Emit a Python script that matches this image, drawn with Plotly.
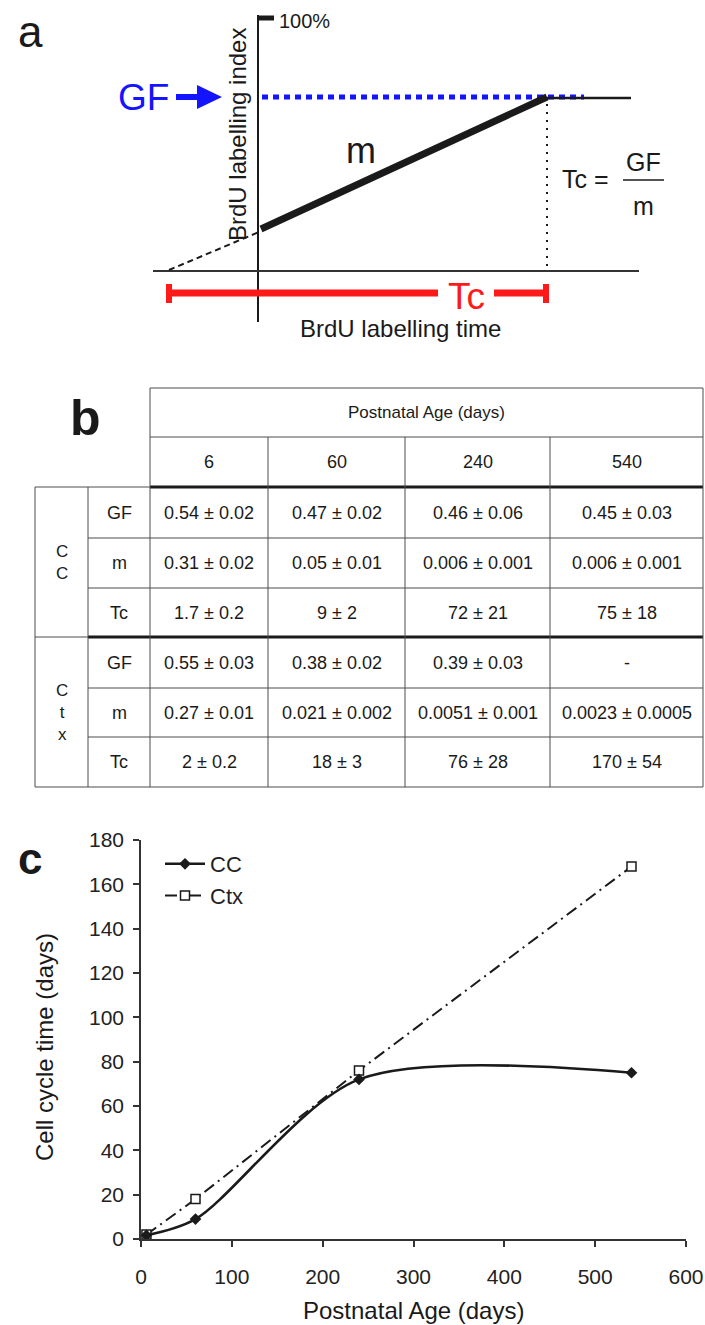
import plotly.graph_objects as go

FONT = "Liberation Sans, Arial, sans-serif"
INK = "#1a1a1a"
BLUE = "#1414ff"
RED = "#ff1a1a"
W, H = 705, 1325

# ---------------- panel c data ----------------
postnatal_age = [6, 60, 240, 540]
cc_cycle_time = [1.7, 9, 72, 75]
ctx_cycle_time = [2, 18, 76, 168]
x_tick_vals = [0, 100, 200, 300, 400, 500, 600]
y_tick_vals = [0, 20, 40, 60, 80, 100, 120, 140, 160, 180]

# ---------------- panel b data ----------------
age_headers = ["6", "60", "240", "540"]
param_names = ["GF", "m", "Tc"]
group_names = ["C<br>C", "C<br>t<br>x"]
cc_gf = ["0.54 ± 0.02", "0.47 ± 0.02", "0.46 ± 0.06", "0.45 ± 0.03"]
cc_m = ["0.31 ± 0.02", "0.05 ± 0.01", "0.006 ± 0.001", "0.006 ± 0.001"]
cc_tc = ["1.7 ± 0.2", "9 ± 2", "72 ± 21", "75 ± 18"]
ctx_gf = ["0.55 ± 0.03", "0.38 ± 0.02", "0.39 ± 0.03", "-"]
ctx_m = ["0.27 ± 0.01", "0.021 ± 0.002", "0.0051 ± 0.001", "0.0023 ± 0.0005"]
ctx_tc = ["2 ± 0.2", "18 ± 3", "76 ± 28", "170 ± 54"]
table_rows = [cc_gf, cc_m, cc_tc, ctx_gf, ctx_m, ctx_tc]

fig = go.Figure()

# ---------------- panel c traces ----------------
fig.add_trace(go.Scatter(
    x=postnatal_age, y=ctx_cycle_time, name="Ctx", mode="lines+markers",
    line=dict(color=INK, width=2, dash="12px,5px,2px,5px"),
    marker=dict(symbol="square", size=9, color="white", line=dict(color=INK, width=1.5)),
    legendrank=2, hoverinfo="skip"))
fig.add_trace(go.Scatter(
    x=postnatal_age, y=cc_cycle_time, name="CC", mode="lines+markers",
    line=dict(color=INK, width=2.6, shape="spline", smoothing=0.85),
    marker=dict(symbol="diamond", size=9, color=INK),
    legendrank=1, hoverinfo="skip"))

# invisible overlay trace so the pixel-space axes exist
fig.add_trace(go.Scatter(x=[0], y=[0], xaxis="x2", yaxis="y2", mode="markers",
                         marker=dict(opacity=0), showlegend=False, hoverinfo="skip"))

shapes = []
ann = []


def line(x0, y0, x1, y1, w=1.0, color=INK, dash=None):
    d = dict(type="line", xref="x2", yref="y2", x0=x0, y0=y0, x1=x1, y1=y1,
             line=dict(color=color, width=w))
    if dash:
        d["line"]["dash"] = dash
    shapes.append(d)


def text(x, y, s, size, color=INK, bold=False, angle=0, xanchor="center"):
    if bold:
        s = "<b>" + s + "</b>"
    ann.append(dict(xref="x2", yref="y2", x=x, y=y, text=s, showarrow=False,
                    font=dict(family=FONT, size=size, color=color),
                    textangle=angle, xanchor=xanchor, yanchor="middle"))


# ---------------- panel a: schematic ----------------
text(30, 31, "a", 44)
line(258, 15, 258, 322, 2)
line(258, 18, 274, 18, 5)
text(277, 21, "100%", 20, xanchor="left")
line(153, 271, 639, 271, 2, "#333333")
text(237, 135, "BrdU labelling index", 24, angle=-90)
text(143, 97, "GF", 37, color=BLUE)
shapes.append(dict(type="path", xref="x2", yref="y2",
                   path="M 176 94 L 197 94 L 197 85 L 222 97 L 197 109 L 197 100 L 176 100 Z",
                   fillcolor=BLUE, line=dict(width=0)))
line(262, 97, 584, 97, 5, BLUE, "6px,5px")
line(547, 98, 631, 98, 2.5)
line(261, 229, 547, 97, 7)
line(169, 270, 259, 232, 2, INK, "6px,4px")
line(547, 104, 547, 270, 2, INK, "2px,6px")
text(361, 150, "m", 36)
text(585, 179, "Tc =", 25)
text(643, 162, "GF", 25)
line(623, 180, 664, 180, 1.5)
text(643, 206, "m", 25)
line(169, 293, 438, 293, 7, RED)
line(494, 293, 546, 293, 7, RED)
line(169, 284, 169, 303, 6, RED)
line(546, 284, 546, 303, 6, RED)
text(466, 296, "Tc", 37, color=RED)
text(400, 328, "BrdU labelling time", 24)

# ---------------- panel b: table ----------------
col_edges = [150, 268, 405, 550, 703]
row_edges = [388, 437, 487, 538, 588, 637, 688, 737, 787]
x_outer, x_inner = 35, 88
thin, thick = 1.0, 3.2
grid = "#4d4d4d"

text(85, 418, "b", 50, bold=True)
line(150, 388, 703, 388, thin, grid)
line(150, 437, 703, 437, thin, grid)
line(x_outer, 487, 150, 487, thin, grid)
line(150, 487, 703, 487, thick, INK)
for yy in (538, 588, 688, 737):
    line(x_inner, yy, 703, yy, thin, grid)
line(x_outer, 637, x_inner, 637, thin, grid)
line(x_inner, 637, 703, 637, thick, INK)
line(x_outer, 787, 703, 787, thin, grid)
line(x_outer, 487, x_outer, 787, thin, grid)
line(x_inner, 487, x_inner, 787, thin, grid)
line(150, 388, 150, 787, thin, grid)
for xx in col_edges[1:-1]:
    line(xx, 437, xx, 787, thin, grid)
line(703, 388, 703, 787, thin, grid)

text((150 + 703) / 2, (388 + 437) / 2, "Postnatal Age (days)", 17)
for j, lab in enumerate(age_headers):
    text((col_edges[j] + col_edges[j + 1]) / 2, (437 + 487) / 2, lab, 18)
for g, gname in enumerate(group_names):
    y_mid = (row_edges[2 + 3 * g] + row_edges[5 + 3 * g]) / 2
    text((x_outer + x_inner) / 2, y_mid, gname, 17)
for i, row in enumerate(table_rows):
    y_mid = (row_edges[2 + i] + row_edges[3 + i]) / 2
    text((x_inner + 150) / 2, y_mid, param_names[i % 3], 18)
    for j, val in enumerate(row):
        text((col_edges[j] + col_edges[j + 1]) / 2, y_mid, val, 18)

# ---------------- panel c: labels ----------------
text(30, 858, "c", 44, bold=True)
text(44, 1047, "Cell cycle time (days)", 24, angle=-90)
text(413, 1310, "Postnatal Age (days)", 24)

axis_common = dict(showline=True, linecolor="#333333", linewidth=1.5, ticks="outside",
                   ticklen=6, tickcolor="#333333", tickwidth=1.5, showgrid=False,
                   zeroline=False, automargin=False,
                   tickfont=dict(family=FONT, size=21, color="#222222"))

fig.update_layout(
    template="none",
    width=W, height=H, margin=dict(l=0, r=0, t=0, b=0, pad=0, autoexpand=False),
    paper_bgcolor="white", plot_bgcolor="rgba(0,0,0,0)",
    font=dict(family=FONT, color=INK),
    xaxis=dict(domain=[141 / W, 686 / W], range=[0, 600], tickvals=x_tick_vals,
               ticklabelstandoff=12, anchor="y", **axis_common),
    yaxis=dict(domain=[(H - 1239) / H, (H - 840) / H], range=[0, 180], tickvals=y_tick_vals,
               ticklabelstandoff=5, anchor="x", **axis_common),
    xaxis2=dict(domain=[0, 1], range=[0, W], visible=False, anchor="y2",
                fixedrange=True, automargin=False),
    yaxis2=dict(domain=[0, 1], range=[H, 0], visible=False, anchor="x2",
                fixedrange=True, automargin=False),
    legend=dict(x=160 / W, y=(H - 843) / H, xanchor="left", yanchor="top",
                itemwidth=40, font=dict(family=FONT, size=22, color="#222222"),
                bgcolor="rgba(0,0,0,0)"),
    shapes=shapes, annotations=ann, showlegend=True,
)

fig.write_html(
    "out.html",
    config={"displayModeBar": False},
    post_script="document.body.style.margin='0px';document.body.style.overflow='hidden';",
)
